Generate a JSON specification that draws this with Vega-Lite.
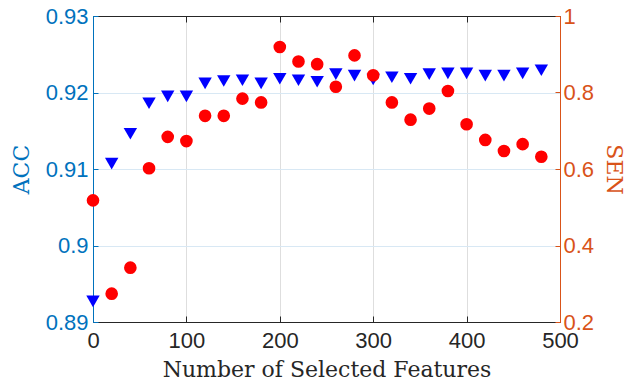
{
  "$schema": "https://vega.github.io/schema/vega-lite/v6.json",
  "width": 467,
  "height": 306,
  "autosize": {"type": "none"},
  "padding": {"left": 93, "top": 16, "right": 66, "bottom": 66},
  "background": "white",
  "config": {
    "view": {"stroke": null},
    "axis": {"labelFont": "Liberation Sans", "labelFontSize": 22, "titleFont": "DejaVu Serif", "titleFontSize": 22, "titleFontWeight": "normal", "domainWidth": 1, "tickWidth": 1}
  },
  "data": {
    "values": [
      {"n": 0, "ACC": 0.8927, "SEN": 0.518},
      {"n": 20, "ACC": 0.9107, "SEN": 0.274},
      {"n": 40, "ACC": 0.9146, "SEN": 0.342},
      {"n": 60, "ACC": 0.9186, "SEN": 0.602},
      {"n": 80, "ACC": 0.9195, "SEN": 0.684},
      {"n": 100, "ACC": 0.9195, "SEN": 0.673},
      {"n": 120, "ACC": 0.9212, "SEN": 0.739},
      {"n": 140, "ACC": 0.9215, "SEN": 0.739},
      {"n": 160, "ACC": 0.9216, "SEN": 0.784},
      {"n": 180, "ACC": 0.9212, "SEN": 0.774},
      {"n": 200, "ACC": 0.9218, "SEN": 0.919},
      {"n": 220, "ACC": 0.9216, "SEN": 0.881},
      {"n": 240, "ACC": 0.9214, "SEN": 0.874},
      {"n": 260, "ACC": 0.9224, "SEN": 0.815},
      {"n": 280, "ACC": 0.9222, "SEN": 0.897},
      {"n": 300, "ACC": 0.9217, "SEN": 0.845},
      {"n": 320, "ACC": 0.922, "SEN": 0.774},
      {"n": 340, "ACC": 0.9218, "SEN": 0.729},
      {"n": 360, "ACC": 0.9224, "SEN": 0.758},
      {"n": 380, "ACC": 0.9225, "SEN": 0.804},
      {"n": 400, "ACC": 0.9225, "SEN": 0.717},
      {"n": 420, "ACC": 0.9222, "SEN": 0.676},
      {"n": 440, "ACC": 0.9222, "SEN": 0.647},
      {"n": 460, "ACC": 0.9225, "SEN": 0.665},
      {"n": 480, "ACC": 0.9229, "SEN": 0.632}
    ]
  },
  "layer": [
    {
      "mark": {"type": "point", "shape": "triangle-down", "filled": true, "color": "#0000FF", "size": 180, "opacity": 1},
      "encoding": {
        "x": {"field": "n", "type": "quantitative", "scale": {"domain": [0, 500], "nice": false},
          "axis": {"orient": "bottom", "values": [0, 100, 200, 300, 400, 500], "title": "Number of Selected Features", "titleColor": "#262626", "labelColor": "#262626", "domainColor": "#262626", "tickColor": "#262626", "tickSize": -6, "labelPadding": 14, "titlePadding": 8, "grid": true, "gridColor": "#dedede", "labelFlush": false}},
        "y": {"field": "ACC", "type": "quantitative", "scale": {"domain": [0.89, 0.93], "nice": false, "zero": false},
          "axis": {"orient": "left", "values": [0.89, 0.9, 0.91, 0.92, 0.93], "labelExpr": "'' + datum.value", "title": "ACC", "titleColor": "#0072BD", "labelColor": "#0072BD", "domainColor": "#0072BD", "tickColor": "#0072BD", "tickSize": -5, "labelPadding": 10, "titlePadding": 12, "grid": true, "gridColor": "#d8e8f4", "labelFlush": false}}
      }
    },
    {
      "mark": {"type": "point", "shape": "circle", "filled": true, "color": "#FF0000", "size": 160, "opacity": 1},
      "encoding": {
        "x": {"field": "n", "type": "quantitative", "scale": {"domain": [0, 500], "nice": false},
          "axis": {"orient": "top", "values": [0, 100, 200, 300, 400, 500], "labels": false, "title": null, "domainColor": "#262626", "tickColor": "#262626", "tickSize": -6, "grid": false}},
        "y": {"field": "SEN", "type": "quantitative", "scale": {"domain": [0.2, 1], "nice": false, "zero": false},
          "axis": {"orient": "right", "values": [0.2, 0.4, 0.6, 0.8, 1], "labelExpr": "'' + datum.value", "title": "SEN", "titleColor": "#D95319", "labelColor": "#D95319", "domainColor": "#D95319", "tickColor": "#D95319", "tickSize": -5, "labelPadding": 8, "titlePadding": 8, "grid": false, "labelFlush": false}}
      }
    }
  ],
  "resolve": {"scale": {"y": "independent"}, "axis": {"x": "independent", "y": "independent"}}
}
